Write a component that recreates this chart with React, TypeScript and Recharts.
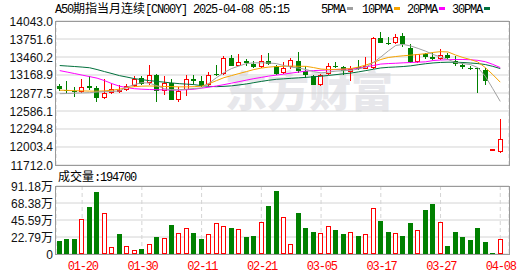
import React from "react";
import { Bar, CartesianGrid, ComposedChart, Line, XAxis, YAxis } from "recharts";

const dates = [
  "01-15", "01-16", "01-17", "01-20", "01-21", "01-22", "01-23", "01-24", "01-27", "01-28",
  "01-29", "01-30", "01-31", "02-03", "02-04", "02-05", "02-06", "02-07", "02-10", "02-11",
  "02-12", "02-13", "02-14", "02-17", "02-18", "02-19", "02-20", "02-21", "02-24", "02-25",
  "02-26", "02-27", "02-28", "03-03", "03-04", "03-05", "03-06", "03-07", "03-10", "03-11",
  "03-12", "03-13", "03-14", "03-17", "03-18", "03-19", "03-20", "03-21", "03-24", "03-25",
  "03-26", "03-27", "03-28", "03-31", "04-01", "04-02", "04-03", "04-04", "04-07", "04-08",
];

const open = [
  12996, 12931, 12910, 12894, 12996, 12959, 12796, 12877, 12910, 12931,
  12985, 13122, 13040, 13175, 12903, 13040, 12760, 12931, 13110, 13070,
  13012, 13192, 13192, 13447, 13322, 13392, 13354, 13301, 13403, 13310,
  13203, 13301, 13392, 13240, 13159, 13012, 13187, 13310, 13301, 13213,
  13297, 13272, 13284, 13761, 13685, 13680, 13799, 13610, 13382, 13501,
  13457, 13431, 13496, 13403, 13338, 13290, 13284, 13257, 11938, 11927,
];
const high = [
  13029, 13066, 12975, 13105, 13148, 12985, 13105, 13040, 13012, 13029,
  13159, 13148, 13338, 13192, 13148, 13105, 12975, 13164, 13164, 13148,
  13213, 13338, 13473, 13485, 13501, 13431, 13392, 13485, 13529, 13338,
  13375, 13436, 13538, 13310, 13175, 13187, 13366, 13375, 13322, 13310,
  13419, 13457, 13782, 13870, 13782, 13826, 13854, 13675, 13509, 13529,
  13517, 13582, 13529, 13473, 13366, 13322, 13289, 13284, 11968, 12454,
];
const low = [
  12915, 12877, 12812, 12877, 12931, 12724, 12780, 12861, 12877, 12903,
  12969, 13012, 13012, 12736, 12850, 12757, 12724, 12822, 13029, 12980,
  12985, 13148, 13175, 13310, 13310, 13310, 13284, 13284, 13338, 13175,
  13187, 13268, 13203, 13122, 13001, 12996, 13175, 13284, 13175, 13078,
  13257, 13268, 13268, 13685, 13652, 13664, 13620, 13366, 13370, 13431,
  13408, 13419, 13419, 13322, 13268, 13245, 12877, 13012, 11936, 11910,
];
const close = [
  12939, 12915, 12887, 12969, 12965, 12789, 12877, 12943, 12931, 12996,
  13105, 13024, 13175, 12915, 13045, 12768, 12906, 13105, 13078, 12996,
  13172, 13180, 13447, 13322, 13382, 13366, 13301, 13392, 13349, 13192,
  13284, 13419, 13229, 13164, 13012, 13175, 13310, 13294, 13229, 13268,
  13262, 13310, 13761, 13691, 13675, 13782, 13664, 13382, 13501, 13463,
  13424, 13485, 13447, 13349, 13294, 13278, 13268, 13066, 11966, 12133,
];
const prevClose = 13010;

const volume = [
  180500, 207000, 207000, 466000, 628000, 826000, 545000, 97000, 273000, 111000,
  58000, 62000, 137000, 233000, 216000, 391000, 282000, 348000, 277000, 207000,
  269000, 414000, 374000, 348000, 335000, 233000, 246000, 427000, 642000, 839000,
  493000, 128000, 549000, 352000, 299000, 282000, 374000, 325000, 273000, 295000,
  246000, 269000, 611000, 444000, 299000, 282000, 246000, 418000, 321000, 589000,
  668000, 427000, 101000, 299000, 233000, 194000, 352000, 158000, 9000, 194700,
];

const ma5 = [
  12866, 12869, 12874, 12879, 12882, 12894, 12899, 12903, 12910, 12972,
  13013, 13045, 13037, 12996, 12947, 12931, 12931, 12939, 12951, 12959,
  13037, 13126, 13208, 13273, 13314, 13354, 13366, 13366, 13363, 13354,
  13322, 13297, 13281, 13257, 13224, 13203, 13216, 13232, 13240, 13245,
  13265, 13297, 13371, 13460, 13558, 13647, 13664, 13639, 13599, 13555,
  13501, 13460, 13420, 13371, 13354, 13338, 13289, 13148, 12947, 12741,
];
const ma10 = [
  12923, 12920, 12915, 12912, 12908, 12907, 12912, 12923, 12939, 12964,
  12980, 12988, 12991, 12988, 12983, 12980, 12977, 12977, 12980, 12988,
  13029, 13078, 13126, 13159, 13192, 13224, 13257, 13281, 13297, 13306,
  13310, 13314, 13310, 13309, 13289, 13265, 13257, 13260, 13265, 13273,
  13297, 13330, 13371, 13420, 13452, 13468, 13480, 13490, 13501, 13514,
  13534, 13547, 13542, 13493, 13452, 13420, 13379, 13289, 13175, 13053,
];
const ma20 = [
  13240, 13216, 13192, 13167, 13143, 13118, 13078, 13029, 12988, 12964,
  12947, 12939, 12934, 12931, 12928, 12926, 12926, 12931, 12939, 12956,
  12972, 12991, 13013, 13037, 13061, 13086, 13110, 13130, 13151, 13167,
  13183, 13200, 13216, 13232, 13240, 13245, 13252, 13257, 13262, 13268,
  13281, 13301, 13322, 13346, 13354, 13359, 13366, 13371, 13377, 13382,
  13403, 13411, 13416, 13420, 13420, 13416, 13406, 13384, 13341, 13289,
];
const ma30 = [
  13322, 13314, 13306, 13297, 13286, 13257, 13224, 13192, 13159, 13135,
  13110, 13094, 13078, 13065, 13053, 13040, 13029, 13021, 13013, 12996,
  12985, 12980, 12985, 12993, 13008, 13024, 13045, 13065, 13084, 13099,
  13107, 13115, 13123, 13131, 13140, 13149, 13162, 13175, 13188, 13200,
  13219, 13240, 13262, 13283, 13293, 13299, 13306, 13317, 13335, 13351,
  13364, 13372, 13376, 13376, 13371, 13363, 13354, 13338, 13309, 13273,
];

const priceTicks = [11712.0, 12003.4, 12294.8, 12586.1, 12877.5, 13168.9, 13460.2, 13751.6, 14043.0];
const volumeTicks = [0, 227950, 455900, 683850, 911800];
const volumeTickLabels = ["0", "22.79万", "45.59万", "68.38万", "91.18万"];
const labelDates = ["01-20", "01-30", "02-11", "02-21", "03-05", "03-17", "03-27", "04-08"];

const RED = "#ff0000";
const GREEN = "#008000";
const MA_COLORS = { ma5: "#a0a0a0", ma10: "#f5a300", ma20: "#ff00ff", ma30: "#00703c" };
const GRID = "#d4d4d4";
const BORDER = "#9a9a9a";
const MONO = '"Liberation Mono", "DejaVu Sans Mono", monospace';
const CJK = '"Noto Sans CJK SC", sans-serif';
const SANS = '"Liberation Sans", Arial, "Noto Sans CJK SC", sans-serif';

const rows = dates.map((date, i) => ({
  date,
  open: open[i],
  high: high[i],
  low: low[i],
  close: close[i],
  range: [low[i], high[i]],
  volume: volume[i],
  volUp: close[i] >= (i === 0 ? prevClose : close[i - 1]),
  ma5: ma5[i],
  ma10: ma10[i],
  ma20: ma20[i],
  ma30: ma30[i],
}));

function Candle(props: any) {
  const { x, y, width, height, payload } = props;
  if (x == null || payload == null) return null;
  const span = payload.high - payload.low || 1;
  const py = (v: number) => y + ((payload.high - v) / span) * height;
  const up = payload.close >= payload.open;
  const c = Math.round(x + width / 2 - 0.5);
  const lx = c + 0.5;
  const yHigh = Math.round(py(payload.high));
  const yLow = Math.round(py(payload.low));
  const yTop = Math.round(py(Math.max(payload.open, payload.close)));
  let yBot = Math.round(py(Math.min(payload.open, payload.close)));
  if (up) {
    if (yBot - yTop < 2) yBot = yTop + 2;
    return (
      <g>
        {yHigh < yTop && <line x1={lx} x2={lx} y1={yHigh} y2={yTop} stroke={RED} />}
        {yLow > yBot && <line x1={lx} x2={lx} y1={yBot} y2={yLow} stroke={RED} />}
        <rect x={c - 1.5} y={yTop + 0.5} width={4} height={yBot - yTop - 1} fill="#fff" stroke={RED} />
      </g>
    );
  }
  if (yBot - yTop < 1) yBot = yTop + 1;
  return (
    <g>
      <line x1={lx} x2={lx} y1={yHigh} y2={Math.max(yLow, yBot)} stroke={GREEN} />
      <rect x={c - 2} y={yTop} width={5} height={yBot - yTop} fill={GREEN} />
    </g>
  );
}

function VolumeBar(props: any) {
  const { x, y, width, height, payload } = props;
  if (x == null || payload == null) return null;
  const c = Math.round(x + width / 2 - 0.5);
  const top = Math.round(y);
  const bottom = Math.round(y + height);
  const h = Math.max(bottom - top, 1);
  if (payload.volUp) {
    return <rect x={c - 1.5} y={top + 0.5} width={4} height={Math.max(h - 1, 0.5)} fill="#fff" stroke={RED} />;
  }
  return <rect x={c - 2} y={bottom - h} width={5} height={h} fill={GREEN} />;
}

function PriceTick(props: any) {
  const { y, payload } = props;
  return (
    <text x={53} y={y + 4.5} textAnchor="end" fontFamily={SANS} fontSize={12} fill="#111">
      {Number(payload.value).toFixed(1)}
    </text>
  );
}

function VolumeTick(props: any) {
  const { y, payload } = props;
  const idx = volumeTicks.indexOf(payload.value);
  return (
    <text x={53} y={y + 4.5} textAnchor="end" fontFamily={SANS} fontSize={12} fill="#111">
      {volumeTickLabels[idx]}
    </text>
  );
}

function DateTick(props: any) {
  const { x, payload } = props;
  return (
    <text x={x + 0.6} y={100} textAnchor="middle" fontFamily={MONO} fontSize={12} fill={RED} style={{ letterSpacing: "-1.2px" }}>
      {payload.value}
    </text>
  );
}

const legend = [
  { label: "5PMA", x: 321, box: 347, color: MA_COLORS.ma5 },
  { label: "10PMA", x: 362, box: 394, color: MA_COLORS.ma10 },
  { label: "20PMA", x: 407, box: 439, color: MA_COLORS.ma20 },
  { label: "30PMA", x: 452, box: 484, color: MA_COLORS.ma30 },
];

export default function App() {
  return (
    <div style={{ position: "absolute", left: 0, top: 0, width: 530, height: 276, background: "#fff", overflow: "hidden" }}>
      <svg width={530} height={276} style={{ position: "absolute", left: 0, top: 0 }}>
        <text x={225} y={107} fontFamily={CJK} fontSize={42} fontWeight={900} fill="#e7e7eb">
          东方财富
        </text>
      </svg>

      <div style={{ position: "absolute", left: 0, top: 0 }}>
        <ComposedChart width={530} height={176} data={rows} margin={{ top: 21, right: 21, bottom: 11, left: 0 }}>
          <CartesianGrid vertical={false} stroke={GRID} />
          <CartesianGrid horizontal={false} stroke={GRID} strokeDasharray="4 3" />
          <XAxis
            dataKey="date"
            ticks={labelDates}
            interval={0}
            tick={false}
            tickLine={false}
            axisLine={false}
            height={0}
            padding={{ left: 0, right: 5 }}
          />
          <YAxis
            domain={[11712, 14043]}
            ticks={priceTicks}
            interval={0}
            allowDataOverflow
            width={56}
            tickLine={false}
            axisLine={false}
            tick={<PriceTick />}
          />
          <Line dataKey="ma30" stroke={MA_COLORS.ma30} strokeWidth={1} dot={false} activeDot={false} isAnimationActive={false} />
          <Line dataKey="ma20" stroke={MA_COLORS.ma20} strokeWidth={1} dot={false} activeDot={false} isAnimationActive={false} />
          <Line dataKey="ma10" stroke={MA_COLORS.ma10} strokeWidth={1} dot={false} activeDot={false} isAnimationActive={false} />
          <Line dataKey="ma5" stroke={MA_COLORS.ma5} strokeWidth={1} dot={false} activeDot={false} isAnimationActive={false} />
          <Bar dataKey="range" barSize={5} shape={<Candle />} isAnimationActive={false} />
        </ComposedChart>
      </div>

      <div style={{ position: "absolute", left: 0, top: 170 }}>
        <ComposedChart width={530} height={106} data={rows} margin={{ top: 16, right: 21, bottom: 1, left: 0 }}>
          <CartesianGrid vertical={false} stroke={GRID} />
          <CartesianGrid horizontal={false} stroke={GRID} strokeDasharray="4 3" />
          <XAxis
            dataKey="date"
            ticks={labelDates}
            interval={0}
            tickLine={false}
            axisLine={false}
            height={21}
            tick={<DateTick />}
            padding={{ left: 0, right: 5 }}
          />
          <YAxis
            domain={[0, 911800]}
            ticks={volumeTicks}
            interval={0}
            allowDataOverflow
            width={56}
            tickLine={false}
            axisLine={false}
            tick={<VolumeTick />}
          />
          <Bar dataKey="volume" barSize={5} shape={<VolumeBar />} isAnimationActive={false} />
        </ComposedChart>
      </div>

      <div style={{ position: "absolute", left: 55, top: 21, width: 455, height: 145, border: `1px solid ${BORDER}`, boxSizing: "border-box", pointerEvents: "none" }} />
      <div style={{ position: "absolute", left: 55, top: 186, width: 455, height: 69, border: `1px solid ${BORDER}`, boxSizing: "border-box", pointerEvents: "none" }} />

      <svg width={530} height={276} style={{ position: "absolute", left: 0, top: 0, pointerEvents: "none" }}>
        <text x={55} y={13} fontFamily={MONO} fontSize={12} fill="#000" style={{ letterSpacing: "-1.2px" }}>
          A50
          <tspan fontFamily={CJK} style={{ letterSpacing: "0px" }}>期指当月连续</tspan>
          [CN00Y] 2025-04-08 05:15
        </text>
        {legend.map((item) => (
          <g key={item.label}>
            <text x={item.x} y={13} fontFamily={MONO} fontSize={12} fill="#000" style={{ letterSpacing: "-1.2px" }}>
              {item.label}
            </text>
            <rect x={item.box} y={7} width={6} height={3} fill={item.color} />
          </g>
        ))}
        <text x={58} y={181} fontFamily={MONO} fontSize={12} fill="#000" style={{ letterSpacing: "-1.2px" }}>
          <tspan fontFamily={CJK} style={{ letterSpacing: "0px" }}>成交量</tspan>
          :194700
        </text>
      </svg>
    </div>
  );
}
